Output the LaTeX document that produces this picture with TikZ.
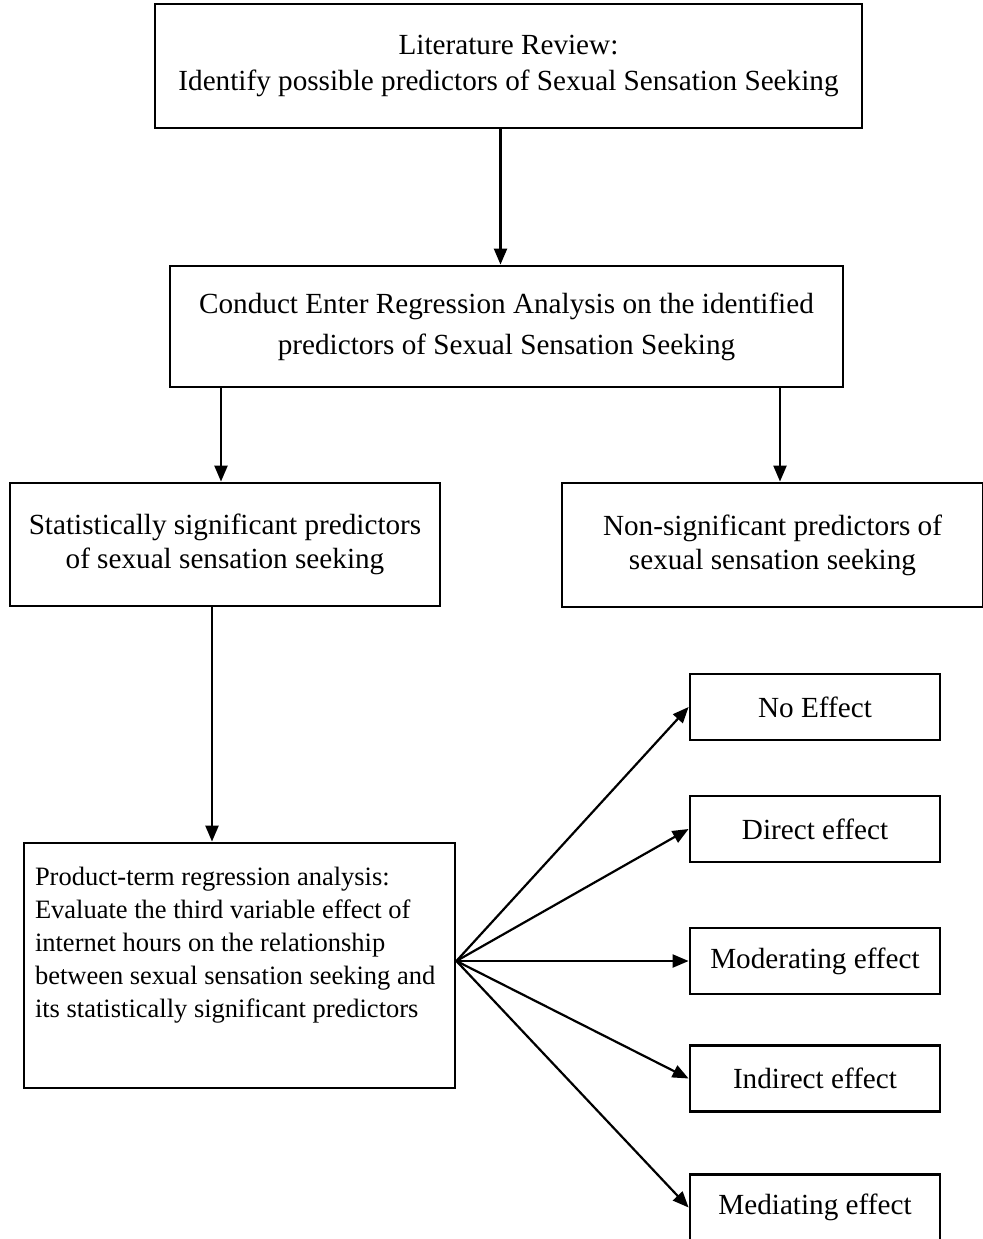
\documentclass[tikz,border=0pt]{standalone}
\usepackage{fontspec}
\setmainfont{Liberation Serif}
\usetikzlibrary{arrows.meta, positioning, calc}

\begin{document}
\begin{tikzpicture}[
  x=0.5pt, y=-0.5pt,
  box/.style={
    rectangle, draw=black, line width=1.4pt,
    align=center, inner sep=0pt,
    font=\fontsize{14.6}{18}\selectfont
  },
  effbox/.style={box, minimum width=125pt, minimum height=33pt},
  arr/.style={-{Triangle[length=8pt,width=6.5pt]}, line width=1.1pt}
]
  \useasboundingbox (0,0) rectangle (982,1239);
  \node[box, minimum width=353.5pt, minimum height=62pt] (lit) at (508.5,66)
    {Literature Review:\\Identify possible predictors of Sexual Sensation Seeking};
  \node[box, minimum width=336.5pt, minimum height=60.5pt,
    font=\fontsize{14.6}{20.5}\selectfont] (enter) at (506.5,326.5)
    {Conduct Enter Regression Analysis on the identified\\predictors of Sexual Sensation Seeking};
  \node[box, minimum width=215pt, minimum height=61.5pt,
    font=\fontsize{14.6}{17}\selectfont] (sig) at (225,544.5)
    {Statistically significant predictors\\of sexual sensation seeking};
  \node[box, minimum width=210.5pt, minimum height=62pt,
    font=\fontsize{14.6}{17}\selectfont] (nonsig) at (772.5,545)
    {Non-significant predictors of\\sexual sensation seeking};
  \node[box, minimum width=215.5pt, minimum height=122.5pt] (prod) at (239.5,965.5) {};
  \node[anchor=north west, inner sep=0pt, align=left,
    font=\fontsize{13.25}{16.5}\selectfont] (prodtxt)
    at ([shift={(12,25)}]prod.north west)
    {Product-term regression analysis:\\Evaluate the third variable effect of\\internet hours on the relationship\\between sexual sensation seeking and\\its statistically significant predictors};
  \node[effbox] (noeff)  at (815,707)    {No Effect};
  \node[effbox] (direct) at (815,829)    {Direct effect};
  \node[effbox] (moder)  at (815,961)    {Moderating effect};
  \node[effbox] (indir)  at (815,1078.5) {Indirect effect};
  \node[effbox] (mediat) at (815,1207.5) {Mediating effect};
  \coordinate (fan) at ([yshift=2.25pt]prod.east);
  \draw[arr] ([xshift=-4pt]lit.south) -- ([xshift=-4pt]lit.south |- enter.north);
  \draw[arr] ([xshift=-2pt]sig.north |- enter.south) -- ([xshift=-2pt]sig.north);
  \draw[arr] ([xshift=3.75pt]nonsig.north |- enter.south) -- ([xshift=3.75pt]nonsig.north);
  \draw[arr] ([xshift=-6.5pt]sig.south) -- ([xshift=-6.5pt]sig.south |- prod.north);
  \draw[arr] (fan) -- (noeff.west);
  \draw[arr] (fan) -- (direct.west);
  \draw[arr] (fan) -- (moder.west);
  \draw[arr] (fan) -- (indir.west);
  \draw[arr] (fan) -- (mediat.west);
\end{tikzpicture}
\end{document}
